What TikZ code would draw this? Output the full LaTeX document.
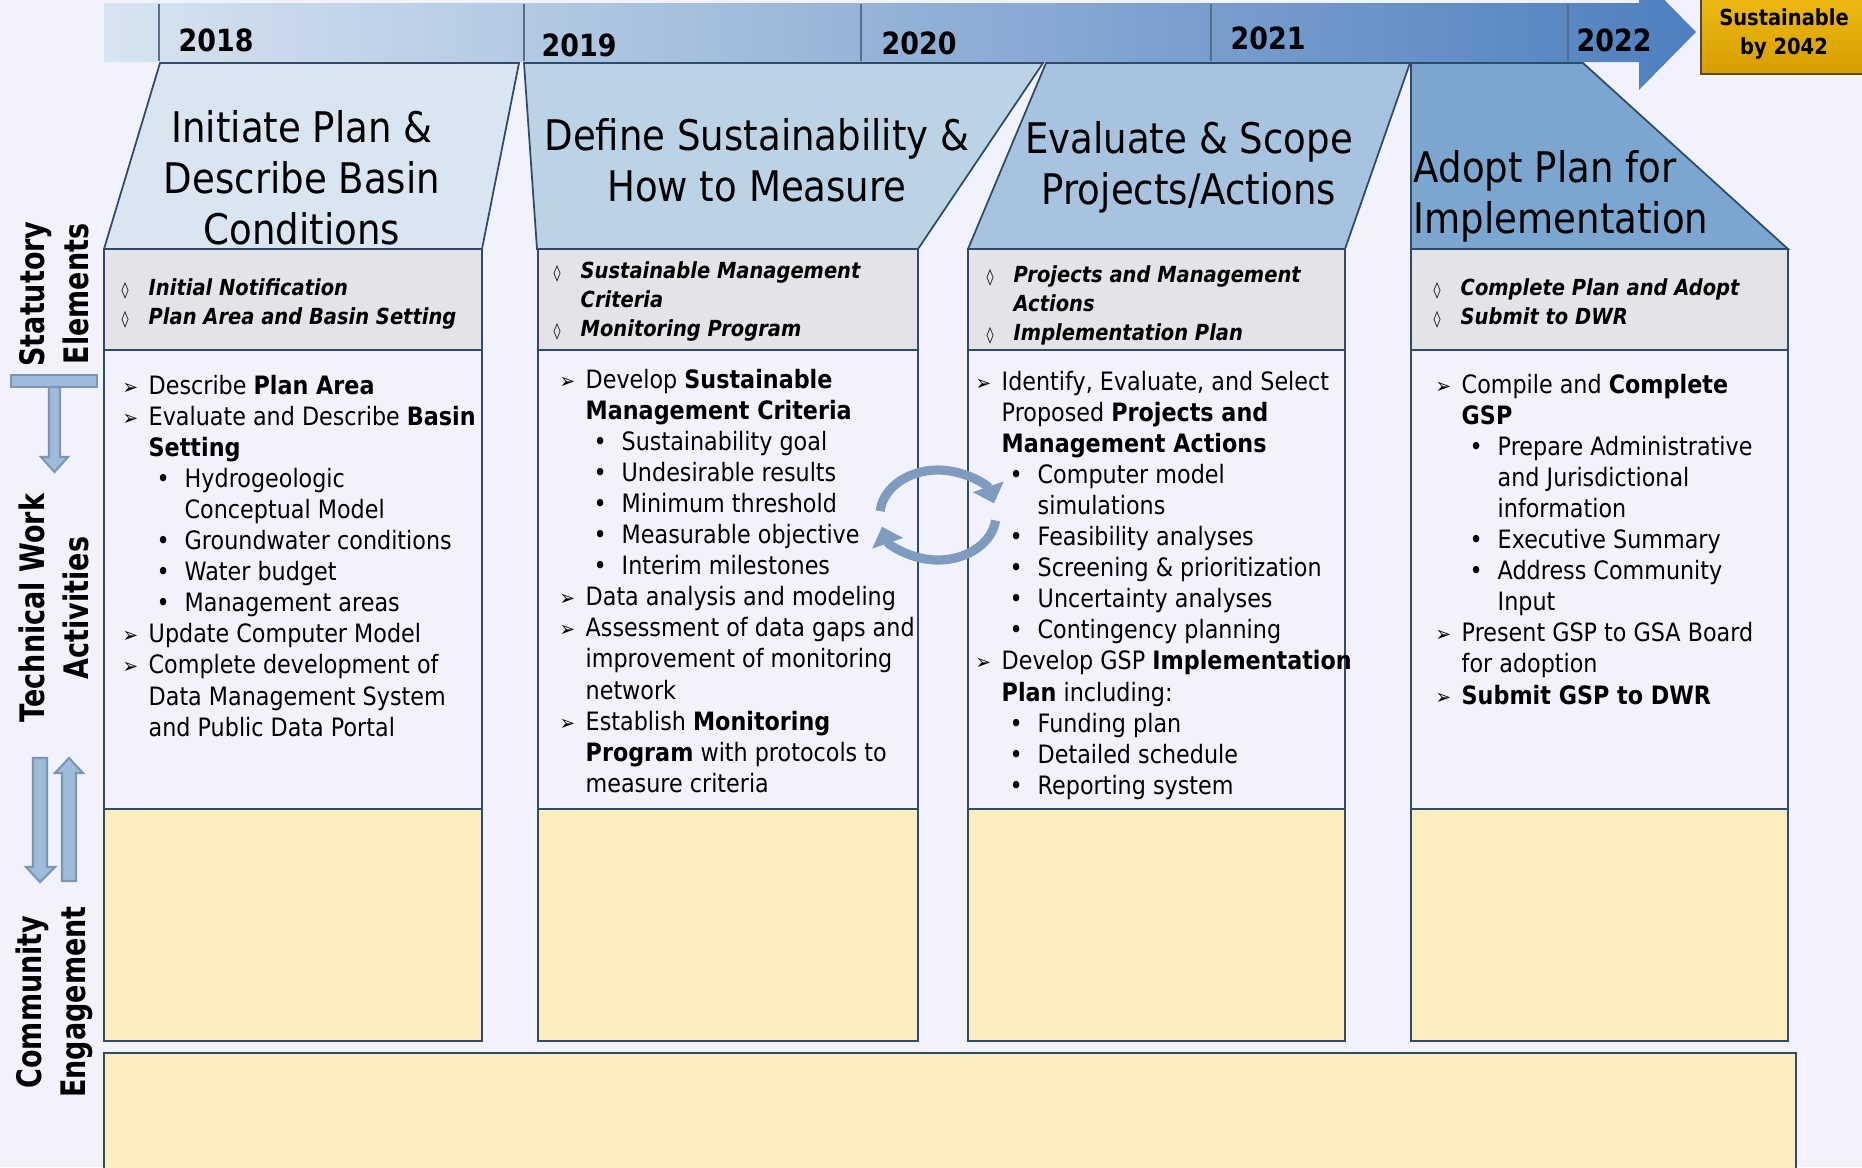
\documentclass[tikz,border=0pt]{standalone}
\usepackage{fontspec}
\setmainfont{DejaVu Sans}[FakeStretch=0.88]
\newfontfamily\sidefont{DejaVu Sans}[FakeStretch=0.8]
\usepackage{xcolor}
\usetikzlibrary{arrows.meta}

\definecolor{bgc}{HTML}{F2F2FC}
\definecolor{statc}{HTML}{E3E4E8}
\definecolor{engc}{HTML}{FEEDBF}
\definecolor{linec}{HTML}{2E4B6C}
\definecolor{hA}{HTML}{D9E5F0}
\definecolor{hB}{HTML}{BCD3E6}
\definecolor{hC}{HTML}{A7C3DF}
\definecolor{hD}{HTML}{7BA6CF}
\definecolor{tlA}{HTML}{D8E4F0}
\definecolor{tlB}{HTML}{4E7FBF}
\definecolor{goldA}{HTML}{EDBA12}
\definecolor{goldB}{HTML}{D69E00}
\definecolor{goldline}{HTML}{5B4A12}
\definecolor{arrfill}{HTML}{9EBBDB}
\definecolor{arrline}{HTML}{7D96B2}
\definecolor{cycc}{HTML}{7F9CC0}

\newlength{\pxu}\setlength{\pxu}{0.1mm}
\newcommand{\mkarr}{\llap{\makebox[26\pxu][l]{\normalfont\fontsize{6}{6}\selectfont ➢}}}
\newcommand{\mkbul}{\hspace*{8\pxu}\makebox[28\pxu][l]{•}}
\newcommand{\mkind}{\hspace*{36\pxu}}
\newcommand{\mkdia}{\llap{\makebox[27\pxu][l]{\normalfont\fontsize{4.6}{5}\selectfont ◊}}}

\begin{document}
\begin{tikzpicture}[x=0.1mm, y=-0.1mm,
    boxline/.style={draw=linec, line width=0.8pt},
    hdr/.style={draw=linec, line width=0.5pt},
    body/.style={anchor=base west, inner sep=0pt, font=\fontsize{7.2}{8.8}\selectfont},
    stat/.style={anchor=base west, inner sep=0pt, font=\fontsize{6.3}{8}\selectfont\bfseries\itshape},
    ttl/.style={inner sep=0pt, align=center, font=\fontsize{12}{14.5}\selectfont},
    yrlbl/.style={anchor=west, inner sep=0pt, font=\fontsize{8.7}{10}\selectfont\bfseries},
    sidelbl/.style={rotate=90, align=center, inner sep=0pt, font=\sidefont\bfseries\fontsize{9.6}{12.5}\selectfont},
    sarr/.style={fill=arrfill, draw=arrline, line width=0.6pt},
    cyc/.style={draw=cycc, line width=2.6pt}]
  \useasboundingbox (0,0) rectangle (1862,1167);
  \clip (0,0) rectangle (1862,1167);
  \fill[bgc] (0,0) rectangle (1862,1167);

  \shade[left color=tlA, right color=tlB] (104,3) -- (1639,3) -- (1639,-26) -- (1696,32) -- (1639,90) -- (1639,62) -- (104,62) -- cycle;
  \foreach \x in {159,524,861,1211,1568}
    \draw[linec!80, line width=0.6pt] (\x,4) -- (\x,61);
  \foreach \n/\x/\y/\yr in {1/178/40/2018, 2/541/45/2019, 3/881/43/2020, 4/1230/38/2021, 5/1576/40/2022}
    \node[yrlbl] (yr\n) at (\x,\y) {\yr};

  \shadedraw[top color=goldA, bottom color=goldB, draw=goldline, line width=0.8pt] (1701,-5) rectangle (1875,74);
  \node[inner sep=0pt, align=center, font=\fontsize{6.3}{8}\selectfont\bfseries] (goal) at (1784,34) {Sustainable\\by 2042};

  \filldraw[hdr, fill=hA] (160,63) -- (519,63) -- (482,249) -- (104,249) -- cycle;
  \filldraw[hdr, fill=hB] (524,63) -- (1043,63) -- (918,249) -- (537,249) -- cycle;
  \filldraw[hdr, fill=hC] (1046,63) -- (1410,63) -- (1345,249) -- (968,249) -- cycle;
  \filldraw[hdr, fill=hD] (1411,63) -- (1583,63) -- (1788,249) -- (1411,249) -- cycle;

  \foreach \a/\b in {104/482, 538/918, 968/1345, 1411/1788} {
    \filldraw[boxline, fill=statc] (\a,249) rectangle (\b,350);
    \filldraw[boxline, fill=bgc] (\a,350) rectangle (\b,809);
    \filldraw[boxline, fill=engc] (\a,809) rectangle (\b,1041);
  }
  \filldraw[boxline, fill=engc] (104,1053) rectangle (1796,1200);

  \node[ttl] (hA) at (302,178) {Initiate Plan \&\\Describe Basin\\Conditions};
  \node[ttl] (hB) at (757,160) {Define Sustainability \&\\How to Measure};
  \node[ttl] (hC) at (1189,167) {Evaluate \& Scope\\Projects/Actions};
  \node[ttl, align=left, anchor=west] (hD) at (1413,196) {Adopt Plan for\\Implementation};

  \foreach \n/\txt in {0/{\mkdia Initial Notification}, 1/{\mkdia Plan Area and Basin Setting}}
    \node[stat] (sa\n) at (148,295+29*\n) {\txt};
  \foreach \n/\txt in {0/{\mkdia Sustainable Management}, 1/{Criteria}, 2/{\mkdia Monitoring Program}}
    \node[stat] (sb\n) at (580,278+29*\n) {\txt};
  \foreach \n/\txt in {0/{\mkdia Projects and Management}, 1/{Actions}, 2/{\mkdia Implementation Plan}}
    \node[stat] (sc\n) at (1013,282+29*\n) {\txt};
  \foreach \n/\txt in {0/{\mkdia Complete Plan and Adopt}, 1/{\mkdia Submit to DWR}}
    \node[stat] (sd\n) at (1460,295+29*\n) {\txt};

  \foreach \n/\txt in {0/{\mkarr Describe \textbf{Plan Area}}, 1/{\mkarr Evaluate and Describe \textbf{Basin}},
      2/{\textbf{Setting}}, 3/{\mkbul Hydrogeologic}, 4/{\mkind Conceptual Model},
      5/{\mkbul Groundwater conditions}, 6/{\mkbul Water budget}, 7/{\mkbul Management areas},
      8/{\mkarr Update Computer Model}, 9/{\mkarr Complete development of},
      10/{Data Management System}, 11/{and Public Data Portal}}
    \node[body] (ta\n) at (148,394+31.1*\n) {\txt};
  \foreach \n/\txt in {0/{\mkarr Develop \textbf{Sustainable}}, 1/{\textbf{Management Criteria}},
      2/{\mkbul Sustainability goal}, 3/{\mkbul Undesirable results}, 4/{\mkbul Minimum threshold},
      5/{\mkbul Measurable objective}, 6/{\mkbul Interim milestones},
      7/{\mkarr Data analysis and modeling}, 8/{\mkarr Assessment of data gaps and},
      9/{improvement of monitoring}, 10/{network}, 11/{\mkarr Establish \textbf{Monitoring}},
      12/{\textbf{Program} with protocols to}, 13/{measure criteria}}
    \node[body] (tb\n) at (585,388+31.1*\n) {\txt};
  \foreach \n/\txt in {0/{\mkarr Identify, Evaluate, and Select}, 1/{Proposed \textbf{Projects and}},
      2/{\textbf{Management Actions}}, 3/{\mkbul Computer model}, 4/{\mkind simulations},
      5/{\mkbul Feasibility analyses}, 6/{\mkbul Screening \& prioritization},
      7/{\mkbul Uncertainty analyses}, 8/{\mkbul Contingency planning},
      9/{\mkarr Develop GSP \textbf{Implementation}}, 10/{\textbf{Plan} including:},
      11/{\mkbul Funding plan}, 12/{\mkbul Detailed schedule}, 13/{\mkbul Reporting system}}
    \node[body] (tc\n) at (1001,390+31.1*\n) {\txt};
  \foreach \n/\txt in {0/{\mkarr Compile and \textbf{Complete}}, 1/{\textbf{GSP}},
      2/{\mkbul Prepare Administrative}, 3/{\mkind and Jurisdictional}, 4/{\mkind information},
      5/{\mkbul Executive Summary}, 6/{\mkbul Address Community}, 7/{\mkind Input},
      8/{\mkarr Present GSP to GSA Board}, 9/{for adoption}, 10/{\mkarr \textbf{Submit GSP to DWR}}}
    \node[body] (td\n) at (1461,393+31.1*\n) {\txt};

  \node[sidelbl] (se) at (54,294) {Statutory\\Elements};
  \node[sidelbl] (tw) at (54,608) {Technical Work\\Activities};
  \node[sidelbl] (ce) at (54,1002) {Community\\Engagement};

  \filldraw[sarr] (11,375) rectangle (97,387);
  \filldraw[sarr] (49,387) -- (60,387) -- (60,457) -- (68,457) -- (54.5,472) -- (41,457) -- (49,457) -- cycle;
  \filldraw[sarr] (33,758) -- (47,758) -- (47,867) -- (55,867) -- (40,882) -- (26,867) -- (33,867) -- cycle;
  \filldraw[sarr] (62,881) -- (76,881) -- (76,773) -- (83,773) -- (69,758) -- (55,773) -- (62,773) -- cycle;

  \draw[cyc, -{Triangle[length=5pt, width=9pt]}] (880.2,511.1) arc[start angle=185, end angle=345, x radius=58, y radius=45];
  \draw[cyc, -{Triangle[length=5pt, width=9pt]}] (995.6,520.5) arc[start angle=7, end angle=165, x radius=58, y radius=45];
\end{tikzpicture}
\end{document}
